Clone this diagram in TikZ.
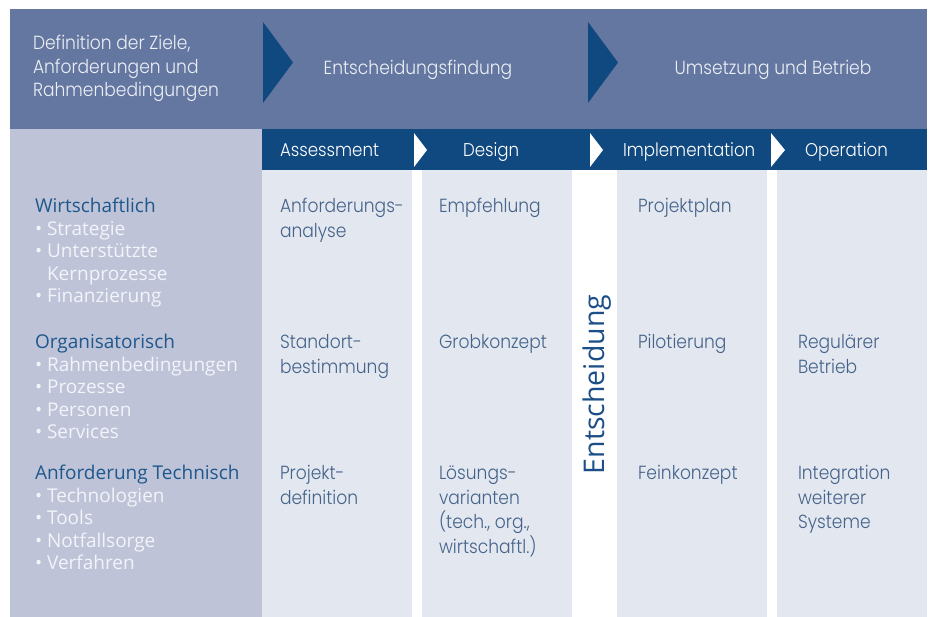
\documentclass[tikz,border=0pt]{standalone}
\usepackage{fontspec}
\newfontfamily\fut{Poppins}[UprightFont=* Light,FakeStretch=0.9]
\newfontfamily\seg{Open Sans}
\definecolor{hdr}{RGB}{100,119,160}
\definecolor{navy}{RGB}{16,72,128}
\definecolor{leftgray}{RGB}{190,195,216}
\definecolor{lightcol}{RGB}{227,231,240}
\definecolor{coltext}{RGB}{70,100,138}
\definecolor{headtext}{RGB}{236,239,246}
\definecolor{lefthead}{RGB}{30,88,140}
\definecolor{bultext}{RGB}{242,244,250}
\definecolor{entsch}{RGB}{28,78,135}
\tikzset{
  txt/.style={anchor=base west,inner sep=0pt,outer sep=0pt,align=left},
  hdrtxt/.style={txt,text=headtext,font=\fut\fontsize{19}{23.5}\selectfont},
  bandtxt/.style={txt,text=white,font=\fut\fontsize{18.5}{22}\selectfont},
  coltxt/.style={txt,text=coltext,font=\fut\fontsize{19}{24.5}\selectfont},
  lhead/.style={txt,text=lefthead,font=\seg\fontsize{19}{22.5}\selectfont},
  lbul/.style={txt,text=bultext,font=\seg\fontsize{19}{22.5}\selectfont},
}
\begin{document}
\begin{tikzpicture}[x=1pt,y=-1pt]
\useasboundingbox (0,0) rectangle (930,617);
% header band
\fill[hdr] (10,9) rectangle (927,129);
\fill[navy] (263,22) -- (293,62.5) -- (263,103) -- cycle;
\fill[navy] (588,22) -- (618,62.5) -- (588,103) -- cycle;
% left column
\fill[leftgray] (10,129) rectangle (262,617);
% phase band
\fill[navy] (262,129.5) rectangle (927,170);
% columns
\fill[lightcol] (262,170) rectangle (412,617);
\fill[lightcol] (422,170) rectangle (572,617);
\fill[lightcol] (617,170) rectangle (767,617);
\fill[lightcol] (777,170) rectangle (927,617);
% white arrows in band
\fill[white] (414,133) -- (427,150) -- (414,167) -- cycle;
\fill[white] (590,133) -- (603,150) -- (590,167) -- cycle;
\fill[white] (771,133) -- (785,150) -- (771,167) -- cycle;
% header texts (multi-line nodes are placed at the baseline of their last line)
\node[hdrtxt] (def) at (33,97) {Definition der Ziele,\\Anforderungen und\\Rahmenbedingungen};
\node[hdrtxt,anchor=base] (ef) at (418,75) {Entscheidungsfindung};
\node[hdrtxt,anchor=base] (ub) at (773,75) {Umsetzung und Betrieb};
% band texts
\node[bandtxt] (as) at (280,157) {Assessment};
\node[bandtxt] (de) at (463,157) {Design};
\node[bandtxt] (im) at (623,157) {Implementation};
\node[bandtxt] (op) at (805,157) {Operation};
% left column texts
\node[lhead] (w) at (35,213) {Wirtschaftlich};
\node[lbul] (w1) at (35,235.5) {\textbullet\ Strategie};
\node[lbul] (w2) at (35,258) {\textbullet\ Unterstützte};
\node[lbul] (w3) at (35,280.5) {\phantom{\textbullet\ }Kernprozesse};
\node[lbul] (w4) at (35,303) {\textbullet\ Finanzierung};
\node[lhead] (o) at (35,349) {Organisatorisch};
\node[lbul] (o1) at (35,371.5) {\textbullet\ Rahmenbedingungen};
\node[lbul] (o2) at (35,394) {\textbullet\ Prozesse};
\node[lbul] (o3) at (35,416.5) {\textbullet\ Personen};
\node[lbul] (o4) at (35,439) {\textbullet\ Services};
\node[lhead] (t) at (35,480) {Anforderung Technisch};
\node[lbul] (t1) at (35,502.5) {\textbullet\ Technologien};
\node[lbul] (t2) at (35,525) {\textbullet\ Tools};
\node[lbul] (t3) at (35,547.5) {\textbullet\ Notfallsorge};
\node[lbul] (t4) at (35,570) {\textbullet\ Verfahren};
% column texts (first baselines 213 / 349 / 480)
\node[coltxt] (a1) at (280,237.5) {Anforderungs-\\analyse};
\node[coltxt] (a2) at (280,373.5) {Standort-\\bestimmung};
\node[coltxt] (a3) at (280,504.5) {Projekt-\\definition};
\node[coltxt] (d1) at (439,213) {Empfehlung};
\node[coltxt] (d2) at (439,349) {Grobkonzept};
\node[coltxt] (d3) at (439,553.5) {Lösungs-\\varianten\\(tech., org.,\\wirtschaftl.)};
\node[coltxt] (i1) at (638,213) {Projektplan};
\node[coltxt] (i2) at (638,349) {Pilotierung};
\node[coltxt] (i3) at (638,480) {Feinkonzept};
\node[coltxt] (p2) at (798,373.5) {Regulärer\\Betrieb};
\node[coltxt] (p3) at (798,529) {Integration\\weiterer\\Systeme};
% decision
\node[inner sep=0pt,text=entsch,font=\seg\fontsize{28.5}{30}\selectfont,rotate=90] (ent) at (597,384.5) {Entscheidung};
\end{tikzpicture}
\end{document}
